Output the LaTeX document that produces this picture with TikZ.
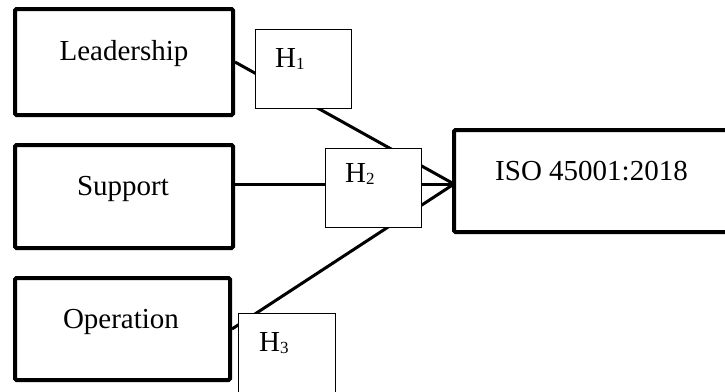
\documentclass[tikz,border=0pt]{standalone}
\usepackage{fontspec}
\setmainfont{Liberation Serif}
\usetikzlibrary{backgrounds}
\newcommand{\hsub}[1]{\raisebox{-2.5pt}{\fontsize{17}{17}\selectfont #1}}
\begin{document}
\begin{tikzpicture}[x=1pt,y=-1pt,
 bigbox/.style={draw, line width=4pt, rounded corners=1.5pt, fill=white, inner sep=0pt},
 hbox/.style={draw, line width=1pt, fill=white, inner sep=0pt},
 link/.style={line width=3pt},
 lbl/.style={font=\fontsize{29}{34}\selectfont, inner sep=0pt, anchor=base},
 hlbl/.style={font=\fontsize{29}{34}\selectfont, inner sep=0pt, anchor=base west}]
\useasboundingbox (0,0) rectangle (725,391);
\clip (0,0) rectangle (725,391);
% boxes
\node[bigbox, minimum width=218pt, minimum height=106pt] (L) at (124,62) {};
\node[bigbox, minimum width=218pt, minimum height=103pt] (S) at (124,196.5) {};
\node[bigbox, minimum width=215pt, minimum height=102pt] (O) at (122.5,329) {};
\node[bigbox, minimum width=286pt, minimum height=102pt] (ISO) at (597,181) {};
\node[hbox, minimum width=96pt, minimum height=79pt] (H1) at (303,68.5) {};
\node[hbox, minimum width=96pt, minimum height=79pt] (H2) at (373,187.5) {};
\node[hbox, minimum width=97pt, minimum height=87pt] (H3) at (286.5,356.5) {};
\coordinate (c) at (454,184);
% connectors behind the boxes
\begin{pgfonlayer}{background}
\draw[link] (L.east) -- (c);
\draw[link] (S.east |- c) -- (c);
\draw[link] (O.east) -- (c);
\end{pgfonlayer}
% texts
\node[lbl] (Lt) at (124,60) {Leadership};
\node[lbl] (St) at (123,195) {Support};
\node[lbl] (Ot) at (121,328) {Operation};
\node[lbl] (It) at (591.5,180) {ISO 45001:2018};
\node[hlbl] (H1t) at (275,67) {H\hsub{1}};
\node[hlbl] (H2t) at (345,182) {H\hsub{2}};
\node[hlbl] (H3t) at (259,351) {H\hsub{3}};
\end{tikzpicture}
\end{document}
